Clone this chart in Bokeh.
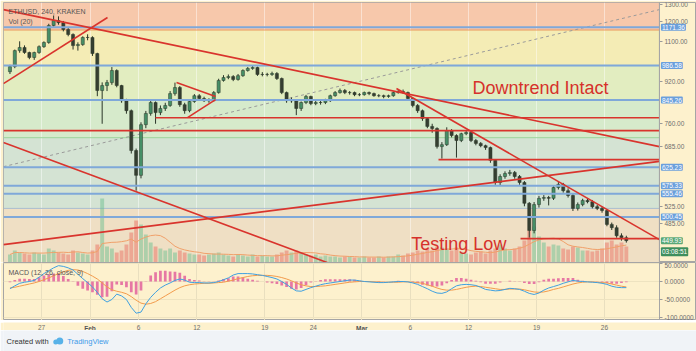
import numpy as np
import pandas as pd
from bokeh.plotting import figure
from bokeh.layouts import column
from bokeh.models import (Range1d, LinearScale, LinearAxis, FixedTicker, NumeralTickFormatter,
                          Label, Span, BoxAnnotation, ColumnDataSource)
from bokeh.embed import file_html
from bokeh.resources import INLINE

FONT = "Liberation Sans"

# ---------------- data ----------------
# 12-hour candle boundaries in USD; first candle opens at day -3.5 (days from Jan 27 00:00)
first_candle_day = -3.5
candle_days = 0.5
price_marks = [960, 982, 1055, 1070, 1046, 1023, 1046, 1074, 1094, 1181,
               1207, 1196, 1160, 1134, 1079, 1084, 1119, 1119, 1041, 882,
               902, 914, 965, 902, 843, 806, 674, 603, 757, 796,
               836, 799, 814, 825, 870, 894, 828, 806, 840, 862,
               851, 843, 843, 874, 923, 935, 939, 927, 943, 965,
               974, 978, 948, 948, 948, 952, 931, 874, 843, 843,
               814, 836, 859, 832, 836, 836, 843, 862, 874, 882,
               874, 874, 866, 866, 874, 870, 862, 862, 859, 862,
               874, 878, 874, 851, 825, 806, 778, 751, 744, 686,
               692, 737, 721, 705, 727, 731, 705, 696, 689, 683,
               645, 584, 600, 608, 611, 600, 584, 532, 471, 529,
               544, 546, 544, 571, 579, 563, 551, 520, 529, 539,
               536, 524, 520, 515, 484, 477, 460, 456, 450]
candle_high = [990, 1060, 1100, 1080, 1050, 1050, 1080, 1100, 1190, 1235,
               1230, 1205, 1170, 1140, 1095, 1125, 1135, 1125, 1045, 915,
               925, 980, 970, 905, 850, 810, 680, 765, 805, 845,
               840, 825, 835, 880, 914, 900, 835, 845, 868, 868,
               858, 852, 880, 930, 945, 948, 945, 950, 970, 980,
               988, 982, 958, 955, 960, 958, 935, 878, 855, 848,
               840, 865, 862, 842, 842, 850, 866, 880, 890, 888,
               880, 878, 872, 878, 878, 874, 868, 866, 866, 878,
               884, 886, 878, 855, 830, 810, 782, 760, 748, 700,
               748, 742, 725, 730, 736, 735, 710, 700, 692, 686,
               648, 606, 614, 618, 615, 604, 588, 535, 535, 550,
               552, 550, 575, 585, 583, 569, 555, 534, 543, 544,
               540, 528, 524, 518, 488, 482, 465, 460]
candle_low = [950, 975, 1045, 1040, 1015, 1012, 1040, 1068, 1088, 1175,
              1185, 1150, 1125, 1060, 1055, 1078, 1105, 1030, 860, 760,
              880, 905, 895, 835, 795, 665, 563, 595, 745, 788,
              760, 790, 805, 820, 862, 820, 795, 800, 835, 845,
              838, 835, 840, 870, 918, 928, 920, 922, 938, 960,
              968, 942, 940, 940, 942, 925, 868, 835, 835, 790,
              805, 830, 826, 826, 828, 830, 838, 858, 870, 868,
              866, 860, 860, 862, 864, 858, 856, 852, 854, 858,
              870, 870, 845, 818, 798, 770, 745, 730, 680, 650,
              688, 715, 653, 700, 722, 700, 690, 684, 676, 638,
              578, 575, 594, 602, 594, 578, 525, 456, 465, 522,
              538, 527, 540, 566, 558, 546, 514, 515, 525, 532,
              520, 516, 510, 480, 472, 456, 450, 446]
volume_k = [8, 12, 10, 9, 8, 10, 9, 8, 14, 12,
            10, 9, 8, 12, 10, 9, 8, 12, 18, 64,
            16, 14, 10, 12, 18, 30, 42, 38, 28, 20,
            16, 14, 12, 14, 10, 12, 10, 9, 8, 8,
            7, 8, 9, 10, 8, 7, 6, 8, 7, 6,
            8, 6, 7, 6, 6, 8, 10, 12, 10, 12,
            10, 8, 7, 8, 6, 7, 6, 6, 5, 6,
            6, 5, 5, 6, 5, 5, 6, 5, 6, 6,
            8, 7, 9, 10, 12, 11, 14, 12, 16, 15,
            14, 12, 15, 10, 9, 8, 10, 11, 9, 12,
            14, 18, 14, 12, 14, 16, 22, 32, 36, 26,
            20, 16, 18, 17, 14, 13, 16, 15, 12, 12,
            11, 12, 14, 20, 22, 18, 20, 16]
macd_line = [-20, -12, -5, -2, 0, 3, 12, 22, 30, 38,
             44, 42, 38, 32, 20, 8, -3, -15, -30, -48,
             -57, -50, -35, -40, -50, -72, -88, -85, -62, -44,
             -30, -18, -10, -4, 3, 7, 4, -2, -3, -3,
             -4, -4, -3, 0, 5, 10, 18, 22, 22, 22,
             21, 19, 17, 14, 11, 7, 0, -8, -18, -26,
             -27, -22, -17, -13, -9, -6, -4, -2, 0, 2,
             4, 4, 2, 0, -1, -2, -3, -3, -2, -1,
             0, 0, -1, -4, -8, -14, -20, -27, -32, -33,
             -29, -20, -12, -9, -8, -9, -11, -16, -22, -24,
             -26, -25, -22, -19, -20, -22, -27, -33, -36, -32,
             -24, -18, -14, -10, -5, -1, 3, 1, 0, -1,
             -2, -3, -5, -8, -13, -16, -17, -17]
signal_line = [-18, -16, -13, -10, -7, -4, 0, 5, 10, 16,
               22, 27, 31, 33, 32, 28, 22, 15, 7, -4,
               -15, -23, -27, -30, -34, -42, -52, -60, -63, -61,
               -56, -48, -40, -32, -24, -17, -12, -9, -7, -6,
               -5, -5, -4, -3, -2, 1, 4, 8, 11, 14,
               16, 17, 17, 17, 16, 14, 11, 7, 2, -4,
               -9, -12, -14, -14, -13, -12, -10, -8, -6, -4,
               -2, -1, 0, 0, 0, -1, -1, -2, -2, -2,
               -2, -1, -1, -2, -3, -5, -9, -13, -18, -22,
               -24, -24, -22, -19, -16, -14, -13, -14, -16, -18,
               -20, -22, -22, -21, -21, -21, -23, -26, -29, -30,
               -29, -26, -22, -19, -15, -11, -7, -4, -2, -1,
               -1, -2, -3, -4, -7, -10, -13, -15]

date_ticks = [0, 5, 10, 16, 23, 28, 33, 38, 44, 51, 58]
date_labels = ["27", "Feb", "6", "12", "19", "24", "Mar", "6", "12", "19", "26"]
month_start = [False, True, False, False, False, False, True, False, False, False, False]
price_ticks = [1300, 1200, 1100, 920, 760, 685, 525, 485]
macd_ticks = [50, 0, -50, -100]

# fib-style background bands
band_edges = [1157, 986.58, 845.26, 714, 520]
band_colors = ["#f7c8ab", "#f4ecb5", "#e2edc0", "#d6eacb", "#d4e3d3", "#efdfc4"]
band_line_colors = ["#e9995f", "#7ea7d8", "#7ea7d8", "#9bd49b", "#a9bccf"]

# drawn levels
blue_levels = [1171.36, 986.58, 845.26, 625.23, 575.33, 555.46, 500.45]
red_h_price = [781, 737, 647, 454]
red_h_start = [11.74, -3.92, 40.9, 49.35]
trend_d0 = [-3.92, -3.92, 13.91, 15.04, -3.92, -3.92, 36.57]
trend_p0 = [1268, 910, 914, 781, 442, 699, 890]
trend_d1 = [63.66, 6.80, 17.93, 17.93, 63.66, 30.80, 63.66]
trend_p1 = [686, 1224, 859, 847, 642, 399, 452]
dash_d = [-3.92, 63.66]
dash_p = [627, 1268]
last_price = 449.93
countdown_text = "03:08:51"
countdown_y = 428

X0, X_AX, XR = -3.915, 63.66, 67.48   # left edge, price-scale divider, right edge (days)
P_LO, P_HI = 408, 1309
M_LO, M_HI = -108.3, 52.8

# ---------------- derived frame ----------------
n = len(candle_high)
t = [first_candle_day + candle_days * (i + 0.5) for i in range(n)]
opens = price_marks[:-1]
closes = price_marks[1:]
df = pd.DataFrame(dict(t=t, o=opens, c=closes, h=candle_high, l=candle_low,
                       vol=volume_k, macd=macd_line, sig=signal_line))
df["top"] = df[["o", "c"]].max(axis=1)
df["bot"] = df[["o", "c"]].min(axis=1)
df["up"] = df["c"] >= df["o"]
df["color"] = np.where(df["up"], "#468f67", "#353e31")
df["vcolor"] = np.where(df["up"], "#6cc08f", "#ea6f62")
df["vol_ma"] = df["vol"].rolling(7, min_periods=1).mean()
df["hist"] = df["macd"] - df["sig"]
src = ColumnDataSource(df)

AX_COLOR = "#6e6e6e"
SCALE_BG = "#fdf1cd"

# ---------------- main pane ----------------
p = figure(width=696, height=262, x_range=Range1d(X0, XR), y_range=Range1d(P_LO, P_HI),
           y_axis_type="log", y_axis_location="right", x_axis_location=None,
           output_backend="svg", toolbar_location=None,
           min_border_left=3, min_border_right=0, min_border_top=2, min_border_bottom=0)
p.background_fill_color = SCALE_BG
p.border_fill_color = SCALE_BG
p.outline_line_color = "#a5a5a5"
ax = p.yaxis[0]
ax.fixed_location = X_AX
ax.ticker = FixedTicker(ticks=price_ticks)
ax.formatter = NumeralTickFormatter(format="0.00")
ax.major_label_text_font_size = "6.5px"
ax.major_label_text_font = FONT
ax.major_label_text_color = AX_COLOR
ax.axis_line_color = "#a5a5a5"
ax.major_tick_out = 3
ax.major_tick_in = 0
ax.minor_tick_line_color = None
ax.major_tick_line_color = "#9a9a9a"
ax.major_label_standoff = 2
p.xgrid.ticker = FixedTicker(ticks=date_ticks)
p.xgrid.grid_line_color = "#ffffff"
p.xgrid.grid_line_alpha = 0.45
p.ygrid.visible = False

edges = [P_HI] + band_edges + [P_LO]
for i, col in enumerate(band_colors):
    p.add_layout(BoxAnnotation(top=edges[i], bottom=edges[i + 1], left=X0, right=X_AX,
                               fill_color=col, fill_alpha=1.0, line_alpha=0, level="image"))
p.segment(x0=[X0] * len(band_edges), y0=band_edges, x1=[X_AX] * len(band_edges), y1=band_edges,
          line_color=band_line_colors, line_width=1)

# volume overlay
p.extra_y_ranges = {"vol": Range1d(0, 260)}
p.extra_y_scales = {"vol": LinearScale()}
p.vbar(x="t", width=0.4, top="vol", bottom=0, y_range_name="vol", source=src,
       fill_color="vcolor", fill_alpha=0.5, line_alpha=0)
p.line(x="t", y="vol_ma", y_range_name="vol", source=src, line_color="#f0a06a", line_width=1)

# dashed gray line
p.line(dash_d, dash_p, line_color="#9a9a9a", line_width=1, line_dash="3 3")

# candles
p.segment(x0="t", y0="h", x1="t", y1="l", source=src, line_color="#2a3628", line_width=1)
p.vbar(x="t", width=0.32, top="top", bottom="bot", source=src,
       fill_color="color", line_color="#2a3628", line_width=0.5)

# blue horizontal levels
p.segment(x0=[X0] * len(blue_levels), y0=blue_levels, x1=[X_AX] * len(blue_levels), y1=blue_levels,
          line_color="#7fa8d9", line_width=2)

# red drawings
p.segment(x0=red_h_start, y0=red_h_price, x1=[X_AX] * len(red_h_price), y1=red_h_price,
          line_color="#d9342d", line_width=1.6)
p.segment(x0=trend_d0, y0=trend_p0, x1=trend_d1, y1=trend_p1, line_color="#d9342d", line_width=1.6)

# price-scale divider
p.add_layout(Span(location=X_AX, dimension="height", line_color="#a5a5a5", line_width=1))

# texts
p.add_layout(Label(x=44.4, y=894, text="Downtrend Intact", text_font=FONT, text_font_size="18px",
                   text_color="#d6312b", text_baseline="alphabetic"))
p.add_layout(Label(x=38.1, y=444, text="Testing Low", text_font=FONT, text_font_size="18px",
                   text_color="#d6312b", text_baseline="alphabetic"))
p.add_layout(Label(x=5, y=251, x_units="screen", y_units="screen", text="ETHUSD, 240, KRAKEN",
                   text_font=FONT, text_font_size="7px", text_color="#555555", text_baseline="middle"))
p.add_layout(Label(x=5, y=241, x_units="screen", y_units="screen", text="Vol (20)",
                   text_font=FONT, text_font_size="7px", text_color="#555555", text_baseline="middle"))

for lv in blue_levels:
    p.add_layout(Label(x=X_AX, x_offset=1.5, y=lv, text=f"{lv:.2f}", text_font=FONT,
                       text_font_size="6.5px", text_color="#ffffff", text_baseline="middle",
                       background_fill_color="#6b9fdc", padding=1, border_radius=1))
p.add_layout(Label(x=X_AX, x_offset=1.5, y=last_price, text=f"{last_price:.2f}", text_font=FONT,
                   text_font_size="6.5px", text_color="#ffffff", text_baseline="middle",
                   background_fill_color="#5aa877", padding=1, border_radius=1))
p.add_layout(Label(x=X_AX, x_offset=1.5, y=countdown_y, text=countdown_text, text_font=FONT,
                   text_font_size="6.5px", text_color="#ffffff", text_baseline="middle",
                   background_fill_color="#3f8f5e", padding=1, border_radius=1))

# ---------------- MACD pane ----------------
m = figure(width=696, height=58, x_range=p.x_range, y_range=Range1d(M_LO, M_HI),
           y_axis_location="right", x_axis_location=None, output_backend="svg", toolbar_location=None,
           min_border_left=3, min_border_right=0, min_border_top=0, min_border_bottom=0)
m.background_fill_color = SCALE_BG
m.border_fill_color = SCALE_BG
m.outline_line_color = "#a5a5a5"
my = m.yaxis[0]
my.fixed_location = X_AX
my.ticker = FixedTicker(ticks=macd_ticks)
my.formatter = NumeralTickFormatter(format="0.0000")
my.major_label_text_font_size = "6.5px"
my.major_label_text_font = FONT
my.major_label_text_color = AX_COLOR
my.major_tick_in = 0
my.minor_tick_line_color = None
my.axis_line_color = "#a5a5a5"
my.major_tick_out = 3
my.major_tick_line_color = "#9a9a9a"
my.major_label_standoff = 2
m.xgrid.ticker = FixedTicker(ticks=date_ticks)
m.xgrid.grid_line_color = "#e9dfbf"
m.ygrid.visible = False
m.segment(x0=[X0] * len(macd_ticks), y0=macd_ticks, x1=[X_AX] * len(macd_ticks), y1=macd_ticks,
          line_color="#eee3c0", line_width=1)

m.vbar(x="t", width=0.28, top="hist", bottom=0, source=src, fill_color="#e2619c", line_alpha=0, fill_alpha=0.85)
m.line(x="t", y="sig", source=src, line_color="#f29b4c", line_width=1)
m.line(x="t", y="macd", source=src, line_color="#3fa0e0", line_width=1)
m.add_layout(Label(x=5, y=48, x_units="screen", y_units="screen", text="MACD (12, 26, close, 9)",
                   text_font=FONT, text_font_size="7px", text_color="#555555", text_baseline="middle"))

# ---------------- time scale ----------------
ts = figure(width=696, height=10, x_range=p.x_range, y_range=Range1d(0, 1),
            x_axis_location=None, y_axis_location=None, output_backend="svg", toolbar_location=None,
            min_border_left=3, min_border_right=0, min_border_top=0, min_border_bottom=0)
ts.background_fill_color = SCALE_BG
ts.border_fill_color = SCALE_BG
ts.outline_line_color = None
ts.xgrid.visible = False
ts.ygrid.visible = False
for bold in (False, True):
    ticks = [d for d, ms in zip(date_ticks, month_start) if ms == bold]
    labels = {d: s for d, s, ms in zip(date_ticks, date_labels, month_start) if ms == bold}
    xa = LinearAxis(fixed_location=1, ticker=FixedTicker(ticks=ticks), major_label_overrides=labels,
                    major_label_text_font_size="6.5px", major_label_text_font=FONT,
                    major_label_text_color="#555555" if bold else AX_COLOR,
                    major_label_text_font_style="bold" if bold else "normal",
                    axis_line_color=None, major_tick_out=0, major_tick_in=0,
                    minor_tick_line_color=None, major_label_standoff=2)
    ts.add_layout(xa, "below")

# ---------------- footer ----------------
f = figure(width=696, height=21, x_range=Range1d(0, 696), y_range=Range1d(0, 21),
           x_axis_location=None, y_axis_location=None, output_backend="svg", toolbar_location=None,
           min_border=0)
f.background_fill_color = "#f0f3f7"
f.border_fill_color = "#f0f3f7"
f.outline_line_color = None
f.xgrid.visible = False
f.ygrid.visible = False
f.add_layout(Label(x=3, y=10, text="Created with", text_font=FONT, text_font_size="7.5px",
                   text_color="#333333", text_baseline="middle"))
f.scatter([52.5, 56.5], [9.5, 10.5], size=[5, 7], marker="circle", fill_color="#58b2e8", line_alpha=0)
f.add_layout(Label(x=64, y=10, text="TradingView", text_font=FONT, text_font_size="7.5px",
                   text_color="#3d9be9", text_baseline="middle"))

layout = column(p, m, ts, f, spacing=0)
open("out.html", "w").write(file_html(layout, INLINE))
